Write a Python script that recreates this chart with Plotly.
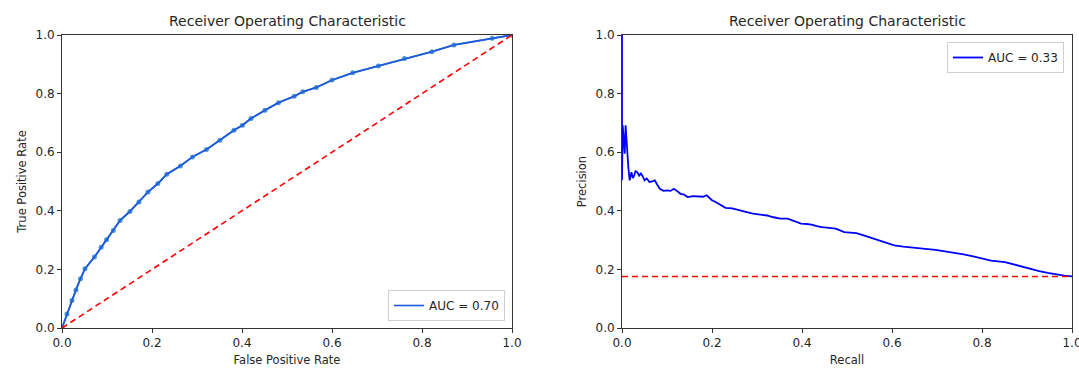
import plotly.graph_objects as go

# ROC curve (left)
roc_fpr = [0.0, 0.011, 0.022, 0.031, 0.041, 0.051, 0.072, 0.087, 0.099, 0.114, 0.129, 0.151,
           0.171, 0.191, 0.213, 0.233, 0.263, 0.290, 0.321, 0.351, 0.382, 0.401, 0.420,
           0.451, 0.481, 0.516, 0.535, 0.565, 0.600, 0.646, 0.703, 0.761, 0.822, 0.871,
           0.956, 1.0]
roc_tpr = [0.0, 0.048, 0.094, 0.130, 0.168, 0.202, 0.242, 0.276, 0.301, 0.333, 0.367, 0.398,
           0.430, 0.464, 0.493, 0.525, 0.553, 0.584, 0.609, 0.641, 0.675, 0.692, 0.715,
           0.743, 0.769, 0.791, 0.806, 0.821, 0.846, 0.871, 0.894, 0.920, 0.943, 0.966,
           0.989, 1.0]
roc_diag_x = [0.0, 1.0]
roc_diag_y = [0.0, 1.0]
roc_label = "AUC = 0.70"

# Precision-Recall curve (right)
pr_recall = [0.0, 0.0, 0.0015, 0.004, 0.006, 0.008, 0.010, 0.012, 0.014, 0.017, 0.019, 0.021,
             0.024, 0.027, 0.030, 0.034, 0.038, 0.042, 0.046, 0.050, 0.055, 0.061, 0.067,
             0.073, 0.078, 0.084, 0.092, 0.100, 0.108, 0.115, 0.122, 0.130, 0.138, 0.146,
             0.158, 0.169, 0.180, 0.188, 0.194, 0.200, 0.208, 0.215, 0.222, 0.230, 0.245,
             0.260, 0.275, 0.291, 0.306, 0.322, 0.337, 0.352, 0.368, 0.383, 0.398, 0.410,
             0.421, 0.433, 0.444, 0.460, 0.475, 0.494, 0.507, 0.521, 0.537, 0.552, 0.567,
             0.582, 0.605, 0.625, 0.644, 0.674, 0.697, 0.720, 0.740, 0.759, 0.778, 0.797,
             0.820, 0.851, 0.870, 0.889, 0.908, 0.927, 0.946, 0.966, 0.983, 1.0]
pr_precision = [1.0, 0.504, 0.692, 0.640, 0.595, 0.692, 0.630, 0.610, 0.550, 0.504, 0.520, 0.532,
                0.512, 0.520, 0.535, 0.532, 0.520, 0.527, 0.518, 0.504, 0.510, 0.498, 0.500,
                0.504, 0.490, 0.475, 0.468, 0.470, 0.468, 0.475, 0.468, 0.458, 0.455, 0.447,
                0.450, 0.449, 0.448, 0.453, 0.445, 0.436, 0.430, 0.424, 0.418, 0.410, 0.408,
                0.401, 0.396, 0.390, 0.388, 0.384, 0.378, 0.373, 0.373, 0.365, 0.356, 0.355,
                0.353, 0.348, 0.344, 0.342, 0.339, 0.327, 0.325, 0.324, 0.316, 0.308, 0.300,
                0.293, 0.282, 0.278, 0.274, 0.270, 0.267, 0.262, 0.257, 0.251, 0.245, 0.239,
                0.230, 0.225, 0.217, 0.208, 0.201, 0.194, 0.188, 0.182, 0.179, 0.176]
pr_base_x = [0.0, 1.0]
pr_base_y = [0.176, 0.176]
pr_label = "AUC = 0.33"

title_text = "Receiver Operating Characteristic"
tick_vals = [0.0, 0.2, 0.4, 0.6, 0.8, 1.0]
tick_text = ["0.0", "0.2", "0.4", "0.6", "0.8", "1.0"]

W, H = 1079, 371
FONT = "DejaVu Sans"
TXT = "#262626"

fig = go.Figure()

# left plot
fig.add_trace(go.Scatter(x=roc_fpr, y=roc_tpr, mode="lines+markers",
                         line=dict(color="#1f77b4", width=1.8),
                         marker=dict(color="#4a95d0", size=5),
                         showlegend=False, xaxis="x", yaxis="y", hoverinfo="skip"))
fig.add_trace(go.Scatter(x=roc_fpr, y=roc_tpr, mode="lines",
                         line=dict(color="#2058e0", width=1.6),
                         name=roc_label, legend="legend", xaxis="x", yaxis="y"))
fig.add_trace(go.Scatter(x=roc_diag_x, y=roc_diag_y, mode="lines",
                         line=dict(color="red", width=1.6, dash="6px,4px"),
                         showlegend=False, xaxis="x", yaxis="y"))

# right plot
fig.add_trace(go.Scatter(x=pr_recall, y=pr_precision, mode="lines",
                         line=dict(color="#0000ff", width=1.8),
                         name=pr_label, legend="legend2", xaxis="x2", yaxis="y2"))
fig.add_trace(go.Scatter(x=pr_base_x, y=pr_base_y, mode="lines",
                         line=dict(color="red", width=1.6, dash="6px,4px"),
                         showlegend=False, xaxis="x2", yaxis="y2"))

x1 = (62 / W, 512 / W)
x2 = (622 / W, 1072 / W)
yd = ((H - 328) / H, (H - 35) / H)

def axis(domain, anchor, title):
    return dict(domain=list(domain), anchor=anchor, range=[0, 1],
                tickvals=tick_vals, ticktext=tick_text, automargin=False,
                ticklabeloverflow="allow",
                ticks="outside", ticklen=4, tickwidth=1, tickcolor="#333",
                showline=True, linecolor="#333", linewidth=1, mirror=True,
                showgrid=False, zeroline=False,
                tickfont=dict(family=FONT, size=12, color=TXT),
                title=dict(text=title, font=dict(family=FONT, size=11.5, color=TXT), standoff=6),
                fixedrange=True)

fig.update_layout(
    width=W, height=H,
    margin=dict(l=0, r=0, t=0, b=0, autoexpand=False),
    paper_bgcolor="white", plot_bgcolor="white",
    font=dict(family=FONT, color=TXT),
    xaxis=axis(x1, "y", "False Positive Rate"),
    yaxis=axis(yd, "x", "True Positive Rate"),
    xaxis2=axis(x2, "y2", "Recall"),
    yaxis2=axis(yd, "x2", "Precision"),
    legend=dict(x=505 / W, y=(H - 321) / H, xanchor="right", yanchor="bottom",
                bgcolor="white", bordercolor="#d0d0d0", borderwidth=1,
                font=dict(family=FONT, size=12, color=TXT)),
    legend2=dict(x=1064 / W, y=(H - 42) / H, xanchor="right", yanchor="top",
                 bgcolor="white", bordercolor="#d0d0d0", borderwidth=1,
                 font=dict(family=FONT, size=12, color=TXT)),
    annotations=[
        dict(text=title_text, x=(x1[0] + x1[1]) / 2, y=(H - 21) / H, xref="paper", yref="paper",
             showarrow=False, xanchor="center", yanchor="middle",
             font=dict(family=FONT, size=14, color=TXT)),
        dict(text=title_text, x=(x2[0] + x2[1]) / 2, y=(H - 21) / H, xref="paper", yref="paper",
             showarrow=False, xanchor="center", yanchor="middle",
             font=dict(family=FONT, size=14, color=TXT)),
    ],
)

fig.write_html("out.html")
